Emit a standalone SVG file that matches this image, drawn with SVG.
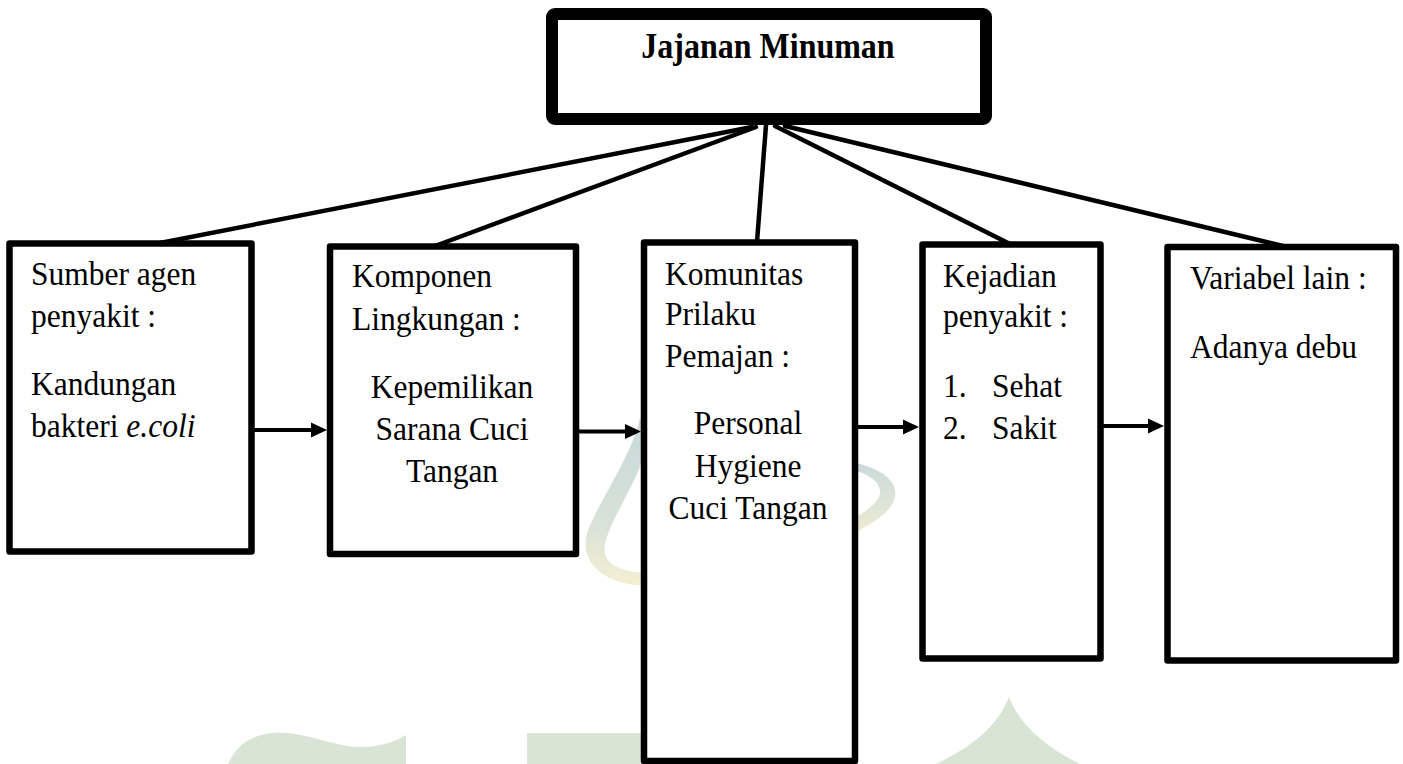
<svg xmlns="http://www.w3.org/2000/svg" width="1403" height="764" viewBox="0 0 1403 764">
<style>
.box{fill:#fff;stroke:#000;stroke-width:6.5;stroke-linejoin:round}
.title{fill:#fff;stroke:#000;stroke-width:12;stroke-linejoin:round}
.t{font-family:"Liberation Serif","Times New Roman",serif;font-size:31.5px;fill:#000}
.tb{font-family:"Liberation Serif","Times New Roman",serif;font-size:32px;font-weight:bold;fill:#000}
.c{text-anchor:middle}
.ln{stroke:#000;stroke-width:4.5;fill:none;stroke-linecap:round}
.ar{stroke:#000;stroke-width:4;fill:none}
.wm{fill:#d8e4d4}
</style>
<defs>
<marker id="ah" markerUnits="userSpaceOnUse" markerWidth="16" markerHeight="16" viewBox="0 0 16 16" refX="2" refY="8" orient="auto">
<path d="M0,0.5 L16,8 L0,15.5 Z" fill="#000"/>
</marker>
<linearGradient id="gs" x1="0" y1="0" x2="0" y2="1">
<stop offset="0" stop-color="#c9dadb"/>
<stop offset="0.6" stop-color="#d6e1d8"/>
<stop offset="1" stop-color="#f5efd2"/>
</linearGradient>
<linearGradient id="gs2" x1="0" y1="0" x2="0" y2="1">
<stop offset="0" stop-color="#c9dadb"/>
<stop offset="1" stop-color="#efecd2"/>
</linearGradient>
</defs>
<g id="watermark">
<path fill="url(#gs)" d="M640 418 C 632 455, 600 500, 588 530 C 578 560, 600 585, 648 586 L 648 573 C 612 572, 600 560, 606 540 C 614 512, 640 480, 648 440 Z"/>
<path fill="url(#gs2)" d="M852 462 C 880 468, 898 480, 895 497 C 892 512, 872 524, 852 534 L 852 520 C 868 510, 882 500, 880 490 C 878 480, 866 473, 852 470 Z"/>
<path class="wm" d="M228 764 C 236 748, 246 735, 275 733 C 302 731, 330 745, 355 747 C 377 748, 395 742, 406 735 L 406 764 Z"/>
<rect class="wm" x="527" y="733" width="125" height="31"/>
<path class="wm" d="M936 764 C 975 745, 998 725, 1009 697 C 1020 725, 1043 745, 1080 764 Z"/>
</g>
<g id="connectors">
<line class="ln" x1="752" y1="127" x2="160" y2="243"/>
<line class="ln" x1="756" y1="127" x2="435" y2="246"/>
<line class="ln" x1="766" y1="125" x2="757" y2="242"/>
<line class="ln" x1="775" y1="126" x2="1010" y2="244"/>
<line class="ln" x1="785" y1="126" x2="1283" y2="246"/>
<line class="ar" x1="252" y1="430" x2="313" y2="430" marker-end="url(#ah)"/>
<line class="ar" x1="577" y1="431.5" x2="627" y2="431.5" marker-end="url(#ah)"/>
<line class="ar" x1="856" y1="427" x2="905" y2="427" marker-end="url(#ah)"/>
<line class="ar" x1="1101" y1="426" x2="1150" y2="426" marker-end="url(#ah)"/>
</g>
<g id="node-jajanan">
<rect class="title" x="552" y="14" width="434" height="105" rx="3"/>
<text class="tb c" transform="translate(768 58) scale(1 1.1)">Jajanan Minuman</text>
</g>
<g id="node-sumber">
<rect class="box" x="9.5" y="243.5" width="242" height="308"/>
<text class="t" transform="translate(31 285) scale(1 1.1)">Sumber agen</text>
<text class="t" transform="translate(31 327) scale(1 1.1)">penyakit :</text>
<text class="t" transform="translate(31 395) scale(1 1.1)">Kandungan</text>
<text class="t" transform="translate(31 437) scale(1 1.1)">bakteri <tspan font-style="italic">e.coli</tspan></text>
</g>
<g id="node-komponen">
<rect class="box" x="330" y="246.5" width="246" height="307.5"/>
<text class="t" transform="translate(352 287) scale(1 1.1)">Komponen</text>
<text class="t" transform="translate(352 330) scale(1 1.1)">Lingkungan :</text>
<text class="t c" transform="translate(452 398) scale(1 1.1)">Kepemilikan</text>
<text class="t c" transform="translate(452 440) scale(1 1.1)">Sarana Cuci</text>
<text class="t c" transform="translate(452 482) scale(1 1.1)">Tangan</text>
</g>
<g id="node-komunitas">
<rect class="box" x="644" y="242.5" width="211" height="518.5"/>
<text class="t" transform="translate(665 285) scale(1 1.1)">Komunitas</text>
<text class="t" transform="translate(665 325) scale(1 1.1)">Prilaku</text>
<text class="t" transform="translate(665 367) scale(1 1.1)">Pemajan :</text>
<text class="t c" transform="translate(748 434) scale(1 1.1)">Personal</text>
<text class="t c" transform="translate(748 476.5) scale(1 1.1)">Hygiene</text>
<text class="t c" transform="translate(748 518.5) scale(1 1.1)">Cuci Tangan</text>
</g>
<g id="node-kejadian">
<rect class="box" x="922.5" y="244.5" width="178" height="414"/>
<text class="t" transform="translate(943 287) scale(1 1.1)">Kejadian</text>
<text class="t" transform="translate(943 327) scale(1 1.1)">penyakit :</text>
<text class="t" transform="translate(943 397) scale(1 1.1)">1.</text>
<text class="t" transform="translate(992 397) scale(1 1.1)">Sehat</text>
<text class="t" transform="translate(943 439) scale(1 1.1)">2.</text>
<text class="t" transform="translate(992 439) scale(1 1.1)">Sakit</text>
</g>
<g id="node-variabel">
<rect class="box" x="1167.5" y="247" width="228.5" height="413.5"/>
<text class="t" transform="translate(1190 289) scale(1 1.1)">Variabel lain :</text>
<text class="t" transform="translate(1190 358) scale(1 1.1)">Adanya debu</text>
</g>
</svg>
